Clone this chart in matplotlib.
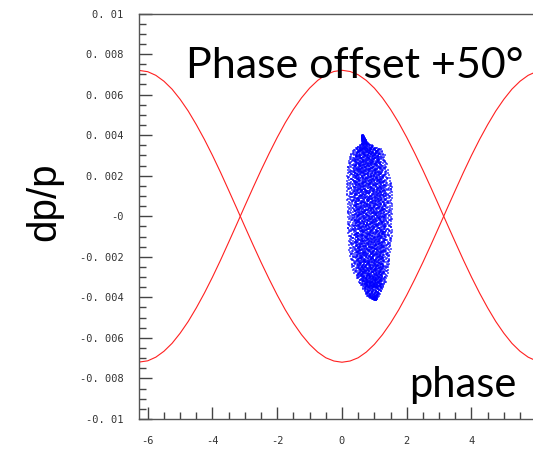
import numpy as np
import matplotlib
matplotlib.use("Agg")
import matplotlib.pyplot as plt
from matplotlib.ticker import MultipleLocator, FixedLocator

# ---- separatrix curves ----
sep_x = [-6.3, -6.0, -5.75, -5.5, -5.25, -5.0, -4.75, -4.5, -4.25, -4.0, -3.75, -3.5,
         -3.25, -3.0, -2.75, -2.5, -2.25, -2.0, -1.75, -1.5, -1.25, -1.0, -0.75, -0.5,
         -0.25, 0.0, 0.25, 0.5, 0.75, 1.0, 1.25, 1.5, 1.75, 2.0, 2.25, 2.5, 2.75, 3.0,
         3.25, 3.5, 3.75, 4.0, 4.25, 4.5, 4.75, 5.0, 5.25, 5.5, 5.75, 6.0]
sep_upper = [-0.0072, -0.00713, -0.00695, -0.00666, -0.00627, -0.00577, -0.00519, -0.00452,
             -0.00379, -0.00300, -0.00216, -0.00128, -0.00039, 0.00051, 0.00140, 0.00227,
             0.00310, 0.00389, 0.00462, 0.00527, 0.00584, 0.00632, 0.00670, 0.00698,
             0.00714, 0.0072, 0.00714, 0.00698, 0.00670, 0.00632, 0.00584, 0.00527,
             0.00462, 0.00389, 0.00310, 0.00227, 0.00140, 0.00051, -0.00039, -0.00128,
             -0.00216, -0.00300, -0.00379, -0.00452, -0.00519, -0.00577, -0.00627,
             -0.00666, -0.00695, -0.00713]
sep_lower = [0.0072, 0.00713, 0.00695, 0.00666, 0.00627, 0.00577, 0.00519, 0.00452,
             0.00379, 0.00300, 0.00216, 0.00128, 0.00039, -0.00051, -0.00140, -0.00227,
             -0.00310, -0.00389, -0.00462, -0.00527, -0.00584, -0.00632, -0.00670, -0.00698,
             -0.00714, -0.0072, -0.00714, -0.00698, -0.00670, -0.00632, -0.00584, -0.00527,
             -0.00462, -0.00389, -0.00310, -0.00227, -0.00140, -0.00051, 0.00039, 0.00128,
             0.00216, 0.00300, 0.00379, 0.00452, 0.00519, 0.00577, 0.00627,
             0.00666, 0.00695, 0.00713]

# ---- particle bunch outline: dp/p level, left and right phase ----
blob_y     = [0.0040, 0.0036, 0.00327, 0.00300, 0.00228, 0.00144, 0.00031, -0.00068, -0.00181, -0.00265, -0.00329, -0.00398, -0.00413]
blob_left  = [0.60,   0.62,   0.34,    0.25,    0.16,    0.13,    0.17,    0.17,     0.23,     0.32,     0.54,     0.80,     1.00]
blob_right = [0.66,   0.80,   1.25,    1.33,    1.42,    1.56,    1.56,    1.56,     1.50,     1.44,     1.35,     1.12,     1.06]

# ---- tick labels ----
xtick_vals = [-6, -4, -2, 0, 2, 4]
xtick_labels = ["-6", "-4", "-2", "0", "2", "4"]
ytick_vals = [0.01, 0.008, 0.006, 0.004, 0.002, 0.0, -0.002, -0.004, -0.006, -0.008, -0.01]
ytick_labels = ["0. 01", "0. 008", "0. 006", "0. 004", "0. 002", "-0", "-0. 002",
                "-0. 004", "-0. 006", "-0. 008", "-0. 01"]

W, H = 533, 451
fig = plt.figure(figsize=(W / 100, H / 100), dpi=100)
ax = fig.add_axes([139 / W, 1 - 419 / H, 1 - 139 / W, (419 - 13.5) / H])

ax.plot(sep_x, sep_upper, color="#ff2020", lw=0.8)
ax.plot(sep_x, sep_lower, color="#ff2020", lw=0.8)

# fill the bunch outline with particles (deterministic Halton placement)
by = np.array(blob_y[::-1]); bl = np.array(blob_left[::-1]); br = np.array(blob_right[::-1])


def halton(n, base, start):
    out = np.zeros(n)
    for k in range(n):
        i = k + start
        f, r = 1.0, 0.0
        while i > 0:
            f /= base
            r += f * (i % base)
            i //= base
        out[k] = r
    return out


def fill(n, wscale, hscale, start):
    t = halton(n, 2, start)
    s = halton(n, 3, start)
    ymid = 0.5 * (by[0] + by[-1])
    yy = ymid + (by[0] - ymid + (by[-1] - by[0]) * t) * hscale
    l = np.interp(yy, by, bl); r = np.interp(yy, by, br)
    c = 0.5 * (l + r); hw = 0.5 * (r - l) * wscale
    return c + hw * (2 * s - 1), yy


x1, y1 = fill(2000, 1.0, 1.0, 17)
x2, y2 = fill(1500, 0.7, 0.85, 3001)
ax.scatter(np.r_[x1, x2], np.r_[y1, y2], s=1.0, marker="s", color="#0000ff",
           alpha=0.6, linewidths=0)

ax.set_xlim(-6.27, 5.9)
ax.set_ylim(-0.01, 0.01)

ax.xaxis.set_major_locator(FixedLocator(xtick_vals))
ax.set_xticklabels(xtick_labels)
ax.xaxis.set_minor_locator(MultipleLocator(0.5))
ax.yaxis.set_major_locator(FixedLocator(ytick_vals))
ax.set_yticklabels(ytick_labels)
ax.yaxis.set_minor_locator(MultipleLocator(0.0005))

tc = "#444444"
ax.tick_params(axis="both", which="major", direction="in", length=9, width=1, color=tc,
               labelsize=7.5, labelcolor="#333333")
ax.tick_params(axis="both", which="minor", direction="in", length=5, width=1, color=tc)
ax.tick_params(axis="y", which="major", pad=11)
ax.tick_params(axis="x", which="major", pad=12)
for lab in ax.get_xticklabels() + ax.get_yticklabels():
    lab.set_family("DejaVu Sans Mono")

for side in ["left", "bottom", "top"]:
    ax.spines[side].set_color("#555555")
    ax.spines[side].set_linewidth(1)
ax.spines["right"].set_visible(False)

fig.text(44 / W, 1 - 202 / H, "dp/p", rotation=90, fontsize=29, family="Liberation Sans",
         ha="center", va="center")
fig.text(523 / W, 1 - 78 / H, "Phase offset +50°", fontsize=31, family="Lato",
         ha="right", va="baseline")
fig.text(517 / W, 1 - 397 / H, "phase", fontsize=30, family="Lato",
         ha="right", va="baseline")

fig.savefig("out.png", dpi=100)
